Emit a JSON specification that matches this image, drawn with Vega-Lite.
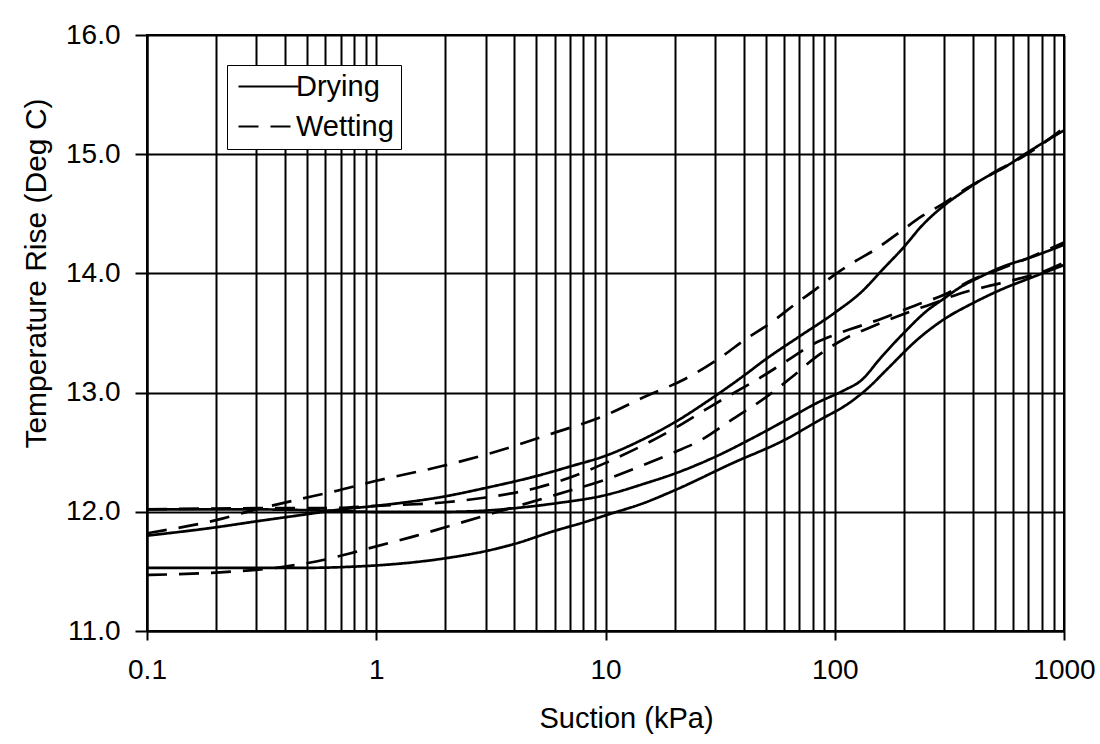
{
  "$schema": "https://vega.github.io/schema/vega-lite/v6.json",
  "autosize": "none",
  "width": 917,
  "height": 596,
  "padding": {"left": 147, "top": 35, "right": 36, "bottom": 113},
  "background": "white",
  "config": {"font": "Liberation Sans", "view": {"stroke": "black", "strokeWidth": 2}},
  "data": {"values": [
    {"c":"D1","k":"Drying","s":0.1,"t":11.80},{"c":"D1","k":"Drying","s":0.2,"t":11.87},{"c":"D1","k":"Drying","s":0.3,"t":11.92},{"c":"D1","k":"Drying","s":0.5,"t":11.98},{"c":"D1","k":"Drying","s":0.7,"t":12.02},{"c":"D1","k":"Drying","s":1,"t":12.05},{"c":"D1","k":"Drying","s":2,"t":12.13},{"c":"D1","k":"Drying","s":3,"t":12.2},{"c":"D1","k":"Drying","s":5,"t":12.3},{"c":"D1","k":"Drying","s":7,"t":12.38},{"c":"D1","k":"Drying","s":10,"t":12.47},{"c":"D1","k":"Drying","s":15,"t":12.62},{"c":"D1","k":"Drying","s":20,"t":12.75},{"c":"D1","k":"Drying","s":30,"t":12.97},{"c":"D1","k":"Drying","s":40,"t":13.14},{"c":"D1","k":"Drying","s":50,"t":13.28},{"c":"D1","k":"Drying","s":70,"t":13.47},{"c":"D1","k":"Drying","s":100,"t":13.67},{"c":"D1","k":"Drying","s":130,"t":13.84},{"c":"D1","k":"Drying","s":165,"t":14.05},{"c":"D1","k":"Drying","s":200,"t":14.22},{"c":"D1","k":"Drying","s":240,"t":14.40},{"c":"D1","k":"Drying","s":300,"t":14.57},{"c":"D1","k":"Drying","s":360,"t":14.68},{"c":"D1","k":"Drying","s":450,"t":14.80},{"c":"D1","k":"Drying","s":550,"t":14.89},{"c":"D1","k":"Drying","s":700,"t":15.02},{"c":"D1","k":"Drying","s":1000,"t":15.2},
    {"c":"W1","k":"Wetting","s":0.1,"t":11.82},{"c":"W1","k":"Wetting","s":0.2,"t":11.93},{"c":"W1","k":"Wetting","s":0.3,"t":12.02},{"c":"W1","k":"Wetting","s":0.45,"t":12.1},{"c":"W1","k":"Wetting","s":0.65,"t":12.17},{"c":"W1","k":"Wetting","s":1,"t":12.26},{"c":"W1","k":"Wetting","s":2,"t":12.39},{"c":"W1","k":"Wetting","s":3.4,"t":12.51},{"c":"W1","k":"Wetting","s":5.7,"t":12.65},{"c":"W1","k":"Wetting","s":10,"t":12.81},{"c":"W1","k":"Wetting","s":15,"t":12.97},{"c":"W1","k":"Wetting","s":22,"t":13.11},{"c":"W1","k":"Wetting","s":32,"t":13.30},{"c":"W1","k":"Wetting","s":41,"t":13.45},{"c":"W1","k":"Wetting","s":53,"t":13.59},{"c":"W1","k":"Wetting","s":68,"t":13.75},{"c":"W1","k":"Wetting","s":83,"t":13.87},{"c":"W1","k":"Wetting","s":100,"t":13.99},{"c":"W1","k":"Wetting","s":120,"t":14.09},{"c":"W1","k":"Wetting","s":150,"t":14.2},{"c":"W1","k":"Wetting","s":190,"t":14.34},{"c":"W1","k":"Wetting","s":240,"t":14.48},{"c":"W1","k":"Wetting","s":300,"t":14.59},{"c":"W1","k":"Wetting","s":380,"t":14.72},{"c":"W1","k":"Wetting","s":450,"t":14.80},{"c":"W1","k":"Wetting","s":530,"t":14.88},{"c":"W1","k":"Wetting","s":650,"t":14.97},{"c":"W1","k":"Wetting","s":1000,"t":15.22},
    {"c":"D2","k":"Drying","s":0.1,"t":12.02},{"c":"D2","k":"Drying","s":0.3,"t":12.02},{"c":"D2","k":"Drying","s":0.6,"t":12.01},{"c":"D2","k":"Drying","s":1,"t":12.0},{"c":"D2","k":"Drying","s":2,"t":12.0},{"c":"D2","k":"Drying","s":3,"t":12.01},{"c":"D2","k":"Drying","s":4,"t":12.03},{"c":"D2","k":"Drying","s":6,"t":12.07},{"c":"D2","k":"Drying","s":10,"t":12.14},{"c":"D2","k":"Drying","s":15,"t":12.24},{"c":"D2","k":"Drying","s":20,"t":12.32},{"c":"D2","k":"Drying","s":30,"t":12.46},{"c":"D2","k":"Drying","s":43,"t":12.61},{"c":"D2","k":"Drying","s":60,"t":12.76},{"c":"D2","k":"Drying","s":85,"t":12.92},{"c":"D2","k":"Drying","s":110,"t":13.02},{"c":"D2","k":"Drying","s":130,"t":13.1},{"c":"D2","k":"Drying","s":160,"t":13.3},{"c":"D2","k":"Drying","s":200,"t":13.5},{"c":"D2","k":"Drying","s":250,"t":13.68},{"c":"D2","k":"Drying","s":300,"t":13.79},{"c":"D2","k":"Drying","s":350,"t":13.88},{"c":"D2","k":"Drying","s":420,"t":13.96},{"c":"D2","k":"Drying","s":530,"t":14.05},{"c":"D2","k":"Drying","s":730,"t":14.14},{"c":"D2","k":"Drying","s":1000,"t":14.24},
    {"c":"W2","k":"Wetting","s":0.1,"t":12.02},{"c":"W2","k":"Wetting","s":0.3,"t":12.03},{"c":"W2","k":"Wetting","s":0.6,"t":12.03},{"c":"W2","k":"Wetting","s":1,"t":12.05},{"c":"W2","k":"Wetting","s":2,"t":12.08},{"c":"W2","k":"Wetting","s":3,"t":12.12},{"c":"W2","k":"Wetting","s":5,"t":12.2},{"c":"W2","k":"Wetting","s":8,"t":12.33},{"c":"W2","k":"Wetting","s":10,"t":12.41},{"c":"W2","k":"Wetting","s":15,"t":12.57},{"c":"W2","k":"Wetting","s":20,"t":12.7},{"c":"W2","k":"Wetting","s":28,"t":12.87},{"c":"W2","k":"Wetting","s":35,"t":12.98},{"c":"W2","k":"Wetting","s":45,"t":13.1},{"c":"W2","k":"Wetting","s":60,"t":13.25},{"c":"W2","k":"Wetting","s":83,"t":13.42},{"c":"W2","k":"Wetting","s":105,"t":13.5},{"c":"W2","k":"Wetting","s":160,"t":13.62},{"c":"W2","k":"Wetting","s":230,"t":13.74},{"c":"W2","k":"Wetting","s":300,"t":13.82},{"c":"W2","k":"Wetting","s":400,"t":13.95},{"c":"W2","k":"Wetting","s":500,"t":14.02},{"c":"W2","k":"Wetting","s":700,"t":14.13},{"c":"W2","k":"Wetting","s":1000,"t":14.26},
    {"c":"W3","k":"Wetting","s":0.1,"t":11.47},{"c":"W3","k":"Wetting","s":0.2,"t":11.49},{"c":"W3","k":"Wetting","s":0.4,"t":11.54},{"c":"W3","k":"Wetting","s":0.6,"t":11.6},{"c":"W3","k":"Wetting","s":0.8,"t":11.66},{"c":"W3","k":"Wetting","s":1,"t":11.71},{"c":"W3","k":"Wetting","s":1.5,"t":11.8},{"c":"W3","k":"Wetting","s":2,"t":11.87},{"c":"W3","k":"Wetting","s":3,"t":11.97},{"c":"W3","k":"Wetting","s":4,"t":12.04},{"c":"W3","k":"Wetting","s":6,"t":12.14},{"c":"W3","k":"Wetting","s":10,"t":12.27},{"c":"W3","k":"Wetting","s":15,"t":12.4},{"c":"W3","k":"Wetting","s":20,"t":12.5},{"c":"W3","k":"Wetting","s":26,"t":12.6},{"c":"W3","k":"Wetting","s":36,"t":12.78},{"c":"W3","k":"Wetting","s":50,"t":12.96},{"c":"W3","k":"Wetting","s":64,"t":13.12},{"c":"W3","k":"Wetting","s":83,"t":13.3},{"c":"W3","k":"Wetting","s":110,"t":13.45},{"c":"W3","k":"Wetting","s":140,"t":13.54},{"c":"W3","k":"Wetting","s":200,"t":13.66},{"c":"W3","k":"Wetting","s":280,"t":13.76},{"c":"W3","k":"Wetting","s":350,"t":13.83},{"c":"W3","k":"Wetting","s":460,"t":13.89},{"c":"W3","k":"Wetting","s":620,"t":13.95},{"c":"W3","k":"Wetting","s":800,"t":14.01},{"c":"W3","k":"Wetting","s":1000,"t":14.09},
    {"c":"D3","k":"Drying","s":0.1,"t":11.53},{"c":"D3","k":"Drying","s":0.3,"t":11.53},{"c":"D3","k":"Drying","s":0.5,"t":11.53},{"c":"D3","k":"Drying","s":0.8,"t":11.54},{"c":"D3","k":"Drying","s":1,"t":11.55},{"c":"D3","k":"Drying","s":2,"t":11.61},{"c":"D3","k":"Drying","s":3,"t":11.67},{"c":"D3","k":"Drying","s":4,"t":11.73},{"c":"D3","k":"Drying","s":6,"t":11.84},{"c":"D3","k":"Drying","s":8,"t":11.91},{"c":"D3","k":"Drying","s":10,"t":11.97},{"c":"D3","k":"Drying","s":15,"t":12.08},{"c":"D3","k":"Drying","s":20,"t":12.18},{"c":"D3","k":"Drying","s":36,"t":12.41},{"c":"D3","k":"Drying","s":60,"t":12.6},{"c":"D3","k":"Drying","s":86,"t":12.77},{"c":"D3","k":"Drying","s":117,"t":12.92},{"c":"D3","k":"Drying","s":140,"t":13.04},{"c":"D3","k":"Drying","s":170,"t":13.2},{"c":"D3","k":"Drying","s":231,"t":13.45},{"c":"D3","k":"Drying","s":297,"t":13.61},{"c":"D3","k":"Drying","s":400,"t":13.75},{"c":"D3","k":"Drying","s":526,"t":13.86},{"c":"D3","k":"Drying","s":733,"t":13.97},{"c":"D3","k":"Drying","s":1000,"t":14.07}
  ]},
  "mark": {"type": "line", "interpolate": "monotone", "strokeWidth": 2.7, "color": "black", "clip": true},
  "encoding": {
    "x": {
      "field": "s", "type": "quantitative",
      "scale": {"type": "log", "domain": [0.1, 1000], "nice": false},
      "axis": {
        "title": "Suction (kPa)",
        "values": [0.1,0.2,0.3,0.4,0.5,0.6,0.7,0.8,0.9,1,2,3,4,5,6,7,8,9,10,20,30,40,50,60,70,80,90,100,200,300,400,500,600,700,800,900,1000],
        "format": "~g",
        "labelExpr": "(datum.value==0.1||datum.value==1||datum.value==10||datum.value==100||datum.value==1000) ? datum.label : ''",
        "labelOverlap": false, "labelFlush": false,
        "grid": true, "gridColor": "black", "gridWidth": 2, "gridOpacity": 1,
        "domainColor": "black", "domainWidth": 2,
        "tickColor": "black", "tickWidth": 2, "tickSize": 9,
        "tickOpacity": {"condition": {"test": "datum.value==0.1||datum.value==1||datum.value==10||datum.value==100||datum.value==1000", "value": 1}, "value": 0},
        "labelFontSize": 28, "labelColor": "black", "labelPadding": 16,
        "titleFontSize": 29, "titleFontWeight": "normal", "titleColor": "black",
        "titleX": 479, "titleY": 96, "titleBaseline": "alphabetic", "titleAlign": "center", "titleAnchor": null
      }
    },
    "y": {
      "field": "t", "type": "quantitative",
      "scale": {"domain": [11, 16], "nice": false, "zero": false},
      "axis": {
        "title": "Temperature Rise (Deg C)",
        "values": [11,12,13,14,15,16],
        "format": ".1f",
        "grid": true, "gridColor": "black", "gridWidth": 2, "gridOpacity": 1,
        "domainColor": "black", "domainWidth": 2,
        "tickColor": "black", "tickWidth": 2, "tickSize": 12,
        "labelFontSize": 28, "labelColor": "black", "labelPadding": 15,
        "titleFontSize": 30, "titleFontWeight": "normal", "titleColor": "black",
        "titleX": -102, "titleY": 238, "titleBaseline": "alphabetic", "titleAlign": "center", "titleAngle": -90
      }
    },
    "strokeDash": {
      "field": "k", "type": "nominal",
      "scale": {"domain": ["Drying", "Wetting"], "range": [[1, 0], [20, 12]]},
      "legend": {
        "title": null, "orient": "none", "legendX": 80, "legendY": 30,
        "symbolType": "M-3,0H3", "symbolSize": 400, "symbolOffset": 20, "symbolStrokeWidth": 2, "symbolStrokeColor": "black",
        "labelFontSize": 29, "labelColor": "black", "labelOffset": 13,
        "strokeColor": "black", "fillColor": "white", "padding": 7, "rowPadding": 10
      }
    },
    "detail": {"field": "c", "type": "nominal"}
  }
}
